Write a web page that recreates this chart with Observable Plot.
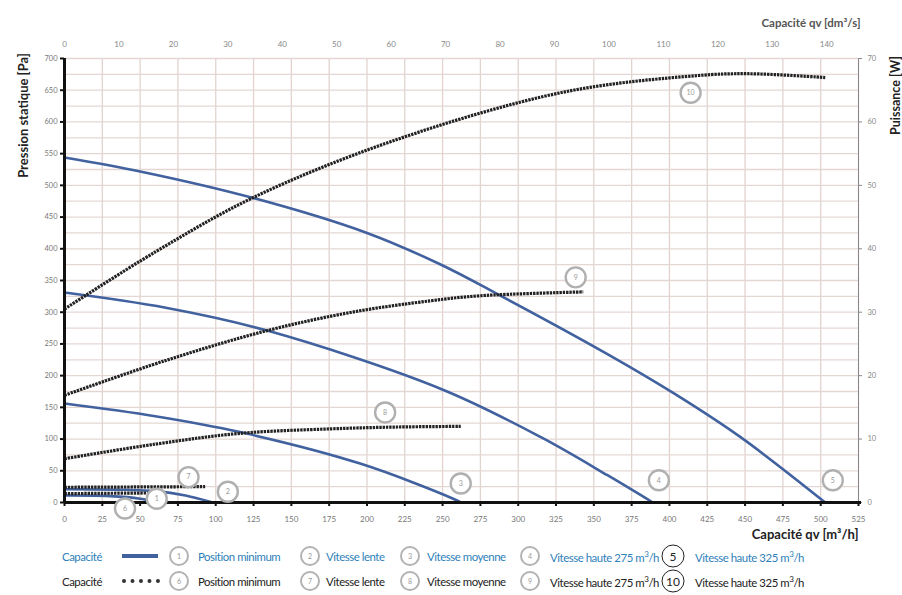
<!DOCTYPE html>
<html><head><meta charset="utf-8">
<script src="https://cdn.jsdelivr.net/npm/d3@7"></script>
<script src="https://cdn.jsdelivr.net/npm/@observablehq/plot@0.6"></script>
<style>
body{margin:0;background:#fff;font-family:Lato,"Open Sans",sans-serif}
#wrap{position:relative;width:902px;height:595px;overflow:hidden}
#legend{position:absolute;left:0;top:545px;width:902px;height:50px}
.it{position:absolute;font-size:11.4px;letter-spacing:-0.45px;white-space:nowrap;transform:translateY(-50%)}
.blue{color:#2f7fb9}
.blk{color:#222}
.circ{position:absolute;width:16px;height:16px;border:2.5px solid #b3b3b3;border-radius:50%;transform:translate(-50%,-50%);font-size:7px;color:#999;text-align:center;line-height:16px;background:#fff}
.circ.main{border:1px solid #222;width:21px;height:21px;line-height:21px;font-size:12px;color:#222}
.sw{position:absolute;height:0;transform:translateY(-50%)}
sup{font-size:8px;vertical-align:5px}
</style></head><body>
<div id="wrap"><div id="chart"></div><div id="legend"></div></div>
<script>
// ---- axes ----
const capTicks = d3.range(0, 526, 25);          // m³/h
const dmTicks = d3.range(0, 141, 10);           // dm³/s
const paTicks = d3.range(0, 701, 50);           // Pa
const wTicks = d3.range(0, 71, 10);             // W
const gridY = d3.range(0, 701, 25);

// ---- pressure curves (blue) : capacity m³/h, pressure Pa ----
const q1 = [0, 30, 50, 62];            const p1 = [11, 10, 6, 0];
const q2 = [0, 40, 60, 80, 98];        const p2 = [21, 20, 18, 11, 0];
const q3 = [0, 60, 116, 196, 257, 262];const p3 = [156, 136, 111, 61, 6, 0];
const q4 = [0, 67, 134, 249, 315, 359, 389]; const p4 = [331, 307, 271, 179, 103, 43, 0];
const q5 = [0, 50, 125, 200, 248, 286, 359, 403, 447, 503];
const p5 = [544, 522, 480, 425, 376, 329, 234, 172, 103, 0];

// ---- power curves (black dotted) : capacity m³/h, power W ----
const q6 = [0, 55];                     const w6 = [1.4, 1.5];
const q7 = [0, 93];                     const w7 = [2.4, 2.5];
const q8 = [0, 60, 116, 175, 220, 262]; const w8 = [6.9, 9.2, 10.9, 11.6, 11.9, 12.0];
const q9 = [0, 67, 134, 190, 242, 275, 343]; const w9 = [16.9, 22.4, 27.1, 30.0, 31.8, 32.6, 33.2];
const q10 = [0, 60, 125, 217, 330, 418, 452, 503]; const w10 = [30.5, 39.5, 48.1, 57, 64.7, 67.3, 67.6, 67.0];

// ---- curve number markers (data units) ----
const markId = ["1","2","3","4","5","6","7","8","9","10"];
const markQ = [61, 108, 262, 393, 508, 40, 82, 212, 338, 414];
const markP = [6, 17, 30, 35, 35, -9.5, 40, 142, 355, 646];

// ---- legend ----
const legendNames = ["Position minimum","Vitesse lente","Vitesse moyenne","Vitesse haute 275 m<sup>3</sup>/h","Vitesse haute 325 m<sup>3</sup>/h"];

const zip = (q, v, id, key) => q.map((x, i) => ({q: x, [key]: v[i], id}));
const blue = [
  ...zip(q1,p1,"1","p"), ...zip(q2,p2,"2","p"), ...zip(q3,p3,"3","p"),
  ...zip(q4,p4,"4","p"), ...zip(q5,p5,"5","p")];
const black = [
  ...zip(q6,w6,"6","w"), ...zip(q7,w7,"7","w"), ...zip(q8,w8,"8","w"),
  ...zip(q9,w9,"9","w"), ...zip(q10,w10,"10","w")];
const marks = markId.map((id, i) => ({id, q: markQ[i], p: markP[i]}));

const chart = Plot.plot({
  width: 902, height: 545,
  marginLeft: 64, marginRight: 44, marginTop: 58, marginBottom: 43,
  style: {fontFamily: "Lato, 'Open Sans', sans-serif", background: "white"},
  x: {domain: [0, 525], label: null},
  y: {domain: [0, 700], label: null},
  marks: [
    Plot.gridX(capTicks, {stroke: "#e2d3cf", strokeOpacity: 1, strokeWidth: 1.3}),
    Plot.gridY(gridY, {stroke: "#e4d7d3", strokeOpacity: 1, strokeWidth: 1.3}),
    Plot.axisX(capTicks, {anchor: "bottom", tickSize: 4, tickPadding: 10, fontSize: 8, color: "#777", stroke: "#111", strokeWidth: 2}),
    Plot.axisX(dmTicks.map(d => d * 3.6), {anchor: "top", tickSize: 0, tickPadding: 12, fontSize: 8, color: "#888", tickFormat: d => Math.round(d / 3.6)}),
    Plot.axisY(paTicks, {anchor: "left", tickSize: 4, tickPadding: 3, fontSize: 7.5, color: "#777", stroke: "#111", strokeWidth: 2}),
    Plot.axisY(wTicks.map(d => d * 10), {anchor: "right", tickSize: 3, tickPadding: 6, fontSize: 7.5, color: "#888", tickFormat: d => d / 10}),
    Plot.ruleX([525], {stroke: "#888", strokeWidth: 1}),
    Plot.line(blue, {x: "q", y: "p", z: "id", stroke: "#41619f", strokeWidth: 2.6, curve: "catmull-rom"}),
    Plot.line(black, {x: "q", y: d => d.w * 10, z: "id", stroke: "#222", strokeWidth: 3.2, strokeDasharray: "2.4 0.9", strokeLinecap: "butt", curve: "catmull-rom"}),
    Plot.ruleX([0], {stroke: "#111", strokeWidth: 3}),
    Plot.ruleY([0], {x1: 0, x2: 527, stroke: "#111", strokeWidth: 3}),
    Plot.dot(marks, {x: "q", y: "p", r: 10, stroke: "#b0b0b0", strokeWidth: 2.4, fill: "white"}),
    Plot.text(marks, {x: "q", y: "p", text: "id", fontSize: 7, fill: "#999"}),
    Plot.text(["Pression statique [Pa]"], {frameAnchor: "top-left", dx: -46, dy: 57, rotate: -90, textAnchor: "middle", fontSize: 13, fontWeight: "bold", fill: "#222"}),
    Plot.text(["Puissance [W]"], {frameAnchor: "top-right", dx: 33, dy: 37, rotate: -90, textAnchor: "middle", fontSize: 12.5, fontWeight: "bold", fill: "#222"}),
    Plot.text(["Capacité qv [dm³/s]"], {frameAnchor: "top-right", dx: 2, dy: -40, textAnchor: "end", fontSize: 11.5, fontWeight: "bold", fill: "#555"}),
    Plot.text(["Capacité qv [m³/h]"], {frameAnchor: "bottom-right", dx: 0, dy: 36, textAnchor: "end", fontSize: 13, fontWeight: "bold", fill: "#222"})
  ]
});
document.getElementById("chart").appendChild(chart);

// legend
const lg = document.getElementById("legend");
const circX = [179, 310, 410, 530, 673];
const textX = [198, 326, 427, 550, 695];
function row(y, cls, idOffset, swatch) {
  let h = `<div class="it ${cls}" style="left:62px;top:${y}px">Capacité</div>` + swatch;
  legendNames.forEach((n, i) => {
    const id = i + 1 + idOffset;
    const main = i === 4 ? " main" : "";
    h += `<div class="circ${main}" style="left:${circX[i]}px;top:${y}px">${id}</div>`;
    h += `<div class="it ${cls}" style="left:${textX[i]}px;top:${y}px">${n}</div>`;
  });
  return h;
}
lg.innerHTML =
  row(11, "blue", 0, `<div class="sw" style="left:122px;top:11px;width:36px;border-top:4px solid #41619f"></div>`) +
  row(36, "blk", 5, `<div class="sw" style="left:122px;top:36px;width:38px;border-top:4px dotted #333"></div>`);
</script>
</body></html>
